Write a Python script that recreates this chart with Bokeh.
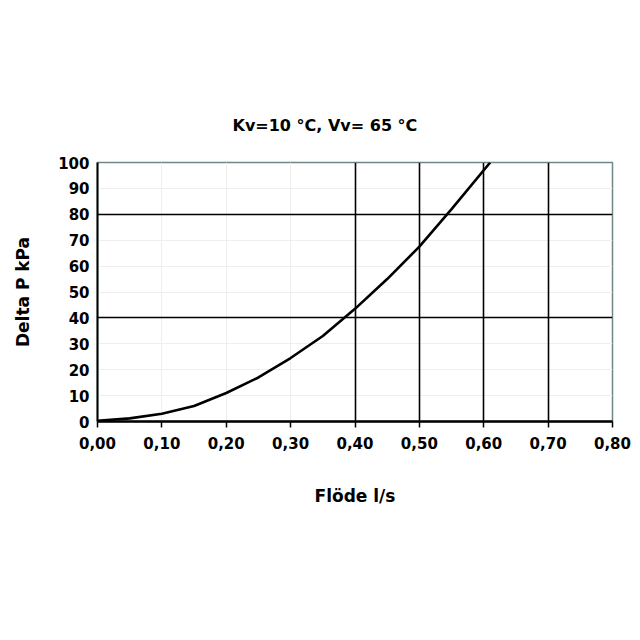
from bokeh.plotting import figure
from bokeh.models import FixedTicker, Grid, Range1d, Title
from bokeh.embed import file_html
from bokeh.resources import INLINE

# Data
flow = [0.0, 0.05, 0.10, 0.15, 0.20, 0.25, 0.30, 0.35, 0.40, 0.45, 0.50, 0.55, 0.61]
delta_p = [0.3, 1.2, 3.0, 6.0, 11.0, 17.0, 24.5, 33.0, 43.5, 55.0, 67.5, 82.0, 100.0]

x_ticks = [0.0, 0.1, 0.2, 0.3, 0.4, 0.5, 0.6, 0.7, 0.8]
x_labels = ["0,00", "0,10", "0,20", "0,30", "0,40", "0,50", "0,60", "0,70", "0,80"]
y_ticks = [0, 10, 20, 30, 40, 50, 60, 70, 80, 90, 100]
strong_x = [0.4, 0.5, 0.6, 0.7]
strong_y = [40, 80]

title_text = "Kv=10 °C, Vv= 65 °C"
x_title = "Flöde l/s"
y_title = "Delta P kPa"

FONT = "DejaVu Sans"

p = figure(width=640, height=640, output_backend="svg", toolbar_location=None,
           x_range=Range1d(0, 0.8), y_range=Range1d(0, 100))
p.min_border_left = 97
p.min_border_right = 28
p.min_border_top = 162
p.min_border_bottom = 219
p.background_fill_color = "white"
p.border_fill_color = "white"
p.outline_line_color = "#6f8787"
p.outline_line_width = 1.5

t = Title(text=title_text, align="left", offset=135, text_font=FONT,
          text_font_size="16px", text_font_style="bold", text_color="black",
          standoff=56)
p.add_layout(t, "above")

# axes
p.xaxis.ticker = FixedTicker(ticks=x_ticks)
p.xaxis.major_label_overrides = {v: s for v, s in zip(x_ticks, x_labels)}
p.yaxis.ticker = FixedTicker(ticks=y_ticks)
for ax in (p.xaxis, p.yaxis):
    ax.major_label_text_font = FONT
    ax.major_label_text_font_size = "15px"
    ax.major_label_text_font_style = "bold"
    ax.major_label_text_color = "black"
    ax.axis_label_text_font = FONT
    ax.axis_label_text_font_size = "17px"
    ax.axis_label_text_font_style = "bold"
    ax.axis_label_text_color = "black"
    ax.minor_tick_line_color = None
    ax.axis_line_color = "black"
p.xaxis.axis_line_width = 2.5
p.yaxis.axis_line_width = 2
p.xaxis.major_tick_out = 6
p.xaxis.major_tick_in = 0
p.xaxis.major_tick_line_color = "black"
p.xaxis.major_tick_line_width = 1.5
p.yaxis.major_tick_out = 0
p.yaxis.major_tick_in = 0
p.xaxis.major_label_standoff = 9
p.yaxis.major_label_standoff = 8
p.xaxis.axis_label = x_title
p.yaxis.axis_label = y_title
p.xaxis.axis_label_standoff = 34
p.yaxis.axis_label_standoff = 22

# faint grids
p.xgrid.ticker = FixedTicker(ticks=x_ticks)
p.ygrid.ticker = FixedTicker(ticks=y_ticks)
p.xgrid.grid_line_color = "#eeeeee"
p.ygrid.grid_line_color = "#eeeeee"
p.xgrid.grid_line_width = 1
p.ygrid.grid_line_width = 1

# strong grids
p.add_layout(Grid(dimension=0, ticker=FixedTicker(ticks=strong_x),
                  grid_line_color="black", grid_line_width=1.6))
p.add_layout(Grid(dimension=1, ticker=FixedTicker(ticks=strong_y),
                  grid_line_color="black", grid_line_width=1.6))

p.line(flow, delta_p, line_color="black", line_width=2.6)

open("out.html", "w").write(file_html(p, INLINE))
